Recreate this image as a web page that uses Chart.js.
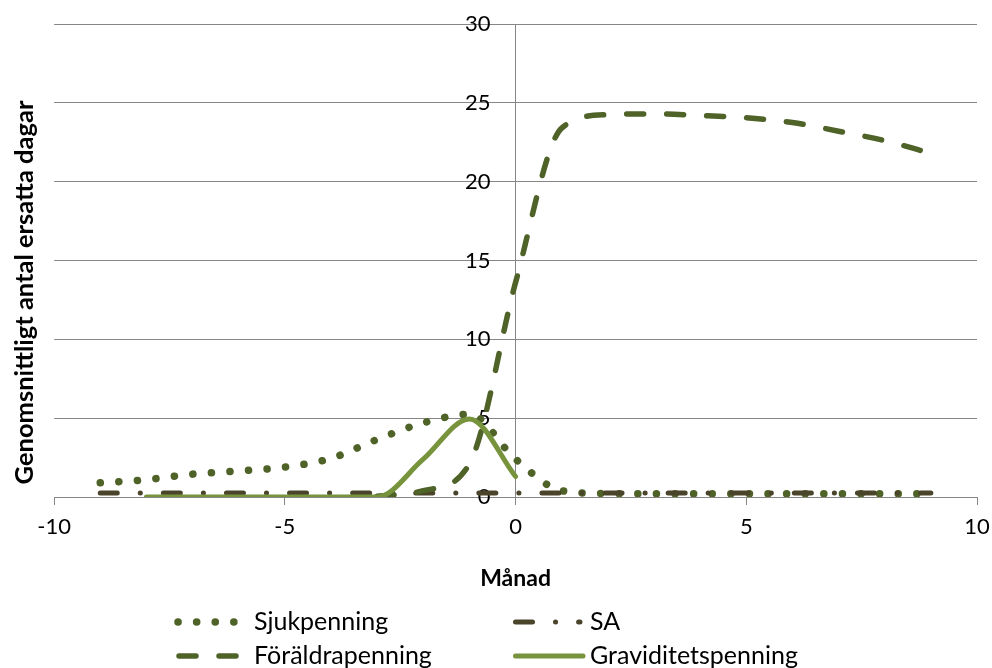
<!DOCTYPE html>
<html>
<head>
<meta charset="utf-8">
<script src="https://cdn.jsdelivr.net/npm/chart.js@4"></script>
<style>
  html, body { margin: 0; padding: 0; background: #fff; }
  #wrap { width: 992px; height: 668px; }
</style>
</head>
<body>
<div id="wrap"><canvas id="c" width="992" height="668"></canvas></div>
<script>
// Months relative to the event (x axis)
const months = [-9, -8, -7, -6, -5, -4, -3, -2, -1, 0, 1, 2, 3, 4, 5, 6, 7, 8, 9];

// Average number of compensated days per month, by benefit
const sjukpenning      = [0.9, 1.1, 1.45, 1.65, 1.9, 2.45, 3.65, 4.7, 5.25, 2.4, 0.4, 0.22, 0.2, 0.2, 0.2, 0.2, 0.2, 0.2, 0.2];
const sa               = [0.25, 0.25, 0.25, 0.25, 0.25, 0.25, 0.25, 0.25, 0.25, 0.25, 0.25, 0.25, 0.25, 0.25, 0.25, 0.25, 0.25, 0.25, 0.25];
const foraldrapenning  = [null, null, null, null, null, null, 0.05, 0.4, 2.1, 13.6, 23.4, 24.25, 24.3, 24.2, 24.05, 23.75, 23.2, 22.6, 21.8];
const graviditet       = [null, 0, 0, 0, 0, 0, 0, 2.4, 4.95, 1.3, null, null, null, null, null, null, null, null, null];

const seriesNames = ['Sjukpenning', 'SA', 'Föräldrapenning', 'Graviditetspenning'];
const xTicks = [-10, -5, 0, 5, 10];
const yTicks = [0, 5, 10, 15, 20, 25, 30];

const FONT = 'Lato, "Open Sans", sans-serif';
const Y_LABEL_GAP = 25;    // distance between the value labels and the vertical axis at x = 0
const Y_TITLE_DROP = 32;   // the vertical axis title sits a little below the middle of the plot

function toPoints(values) {
  const pts = [];
  months.forEach((m, i) => { if (values[i] !== null) pts.push({ x: m, y: values[i] }); });
  return pts;
}

// Lower the vertical axis title and move the y value labels left of the x = 0 axis line
const axisTweaks = {
  id: 'axisTweaks',
  afterLayout(chart) {
    const t = chart.scales.yTitle;
    t.top += 2 * Y_TITLE_DROP;
  },
  beforeDraw(chart) {
    const s = chart.scales.y;
    const items = s.getLabelItems(chart.chartArea);
    if (items._shifted) return;
    items.forEach(it => { it.options.translation[0] -= Y_LABEL_GAP; });
    items._shifted = true;
  }
};

// Legend drawn as a 2x2 grid below the axis title
const gridLegend = {
  id: 'gridLegend',
  afterDraw(chart) {
    const ctx = chart.ctx;
    const cells = [
      { ds: 0, x0: 178, x1: 236, tx: 254, y: 622 },
      { ds: 1, x0: 515.5, x1: 580, tx: 590, y: 622 },
      { ds: 2, x0: 179, x1: 237, tx: 254, y: 656 },
      { ds: 3, x0: 515.5, x1: 583, tx: 590, y: 656 }
    ];
    ctx.save();
    cells.forEach(c => {
      const d = chart.data.datasets[c.ds];
      ctx.beginPath();
      ctx.strokeStyle = d.borderColor;
      ctx.lineWidth = d.borderWidth;
      ctx.lineCap = 'round';
      ctx.setLineDash(d.borderDash || []);
      ctx.moveTo(c.x0, c.y);
      ctx.lineTo(c.x1, c.y);
      ctx.stroke();
      ctx.setLineDash([]);
      ctx.fillStyle = '#000';
      ctx.font = '25px ' + FONT;
      ctx.textBaseline = 'middle';
      ctx.textAlign = 'left';
      ctx.fillText(d.label, c.tx, c.y);
    });
    ctx.restore();
  }
};

const chart = new Chart(document.getElementById('c'), {
  type: 'line',
  data: {
    datasets: [
      {
        label: seriesNames[0], data: toPoints(sjukpenning), yAxisID: 'y', order: 3,
        borderColor: '#4F6228', borderWidth: 7.5, borderDash: [0.1, 18.5], borderCapStyle: 'round'
      },
      {
        label: seriesNames[1], data: toPoints(sa), yAxisID: 'y', order: 2,
        borderColor: '#4A442A', borderWidth: 5, borderDash: [17, 23, 0.1, 23], borderCapStyle: 'round'
      },
      {
        label: seriesNames[2], data: toPoints(foraldrapenning), yAxisID: 'y', order: 1,
        borderColor: '#4F6228', borderWidth: 5.5, borderDash: [17, 23], borderCapStyle: 'round'
      },
      {
        label: seriesNames[3], data: toPoints(graviditet), yAxisID: 'y', order: 0,
        borderColor: '#77933C', borderWidth: 5, borderCapStyle: 'round'
      }
    ]
  },
  options: {
    responsive: false,
    animation: false,
    events: [],
    layout: { padding: { left: 5, right: 15, top: 24, bottom: 76 } },
    elements: {
      point: { radius: 0 },
      line: { cubicInterpolationMode: 'monotone', fill: false }
    },
    plugins: { legend: { display: false }, tooltip: { enabled: false } },
    scales: {
      x: {
        type: 'linear', position: 'bottom', min: -10, max: 10,
        afterBuildTicks(s) { s.ticks = xTicks.map(v => ({ value: v })); },
        afterFit(s) { s.paddingLeft = 0; s.paddingRight = 0; },
        grid: { display: true, drawOnChartArea: false, drawTicks: true, tickLength: 8, color: '#868686' },
        border: { display: true, color: '#868686', width: 1 },
        ticks: { color: '#000', font: { family: FONT, size: 22 }, padding: 9 },
        title: { display: true, text: 'Månad', color: '#000', font: { family: FONT, size: 23, weight: 'bold' }, padding: { top: 15, bottom: 0 } }
      },
      y: {
        type: 'linear', position: { x: 0 }, min: 0, max: 30,
        afterBuildTicks(s) { s.ticks = yTicks.map(v => ({ value: v })); },
        afterFit(s) { s.paddingLeft = 0; s.paddingRight = 0; },
        grid: { color: '#868686', lineWidth: 1, drawTicks: true, tickLength: 7 },
        border: { display: true, color: '#868686', width: 1 },
        ticks: { color: '#000', font: { family: FONT, size: 22 } }
      },
      yTitle: {
        type: 'linear', position: 'left', axis: 'y',
        grid: { display: false }, border: { display: false },
        ticks: { display: false },
        title: { display: true, text: 'Genomsnittligt antal ersatta dagar', color: '#000', font: { family: FONT, size: 25.5, weight: 'bold' }, padding: { top: 4, bottom: 6.5 } }
      }
    }
  },
  plugins: [axisTweaks, gridLegend]
});
</script>
</body>
</html>
